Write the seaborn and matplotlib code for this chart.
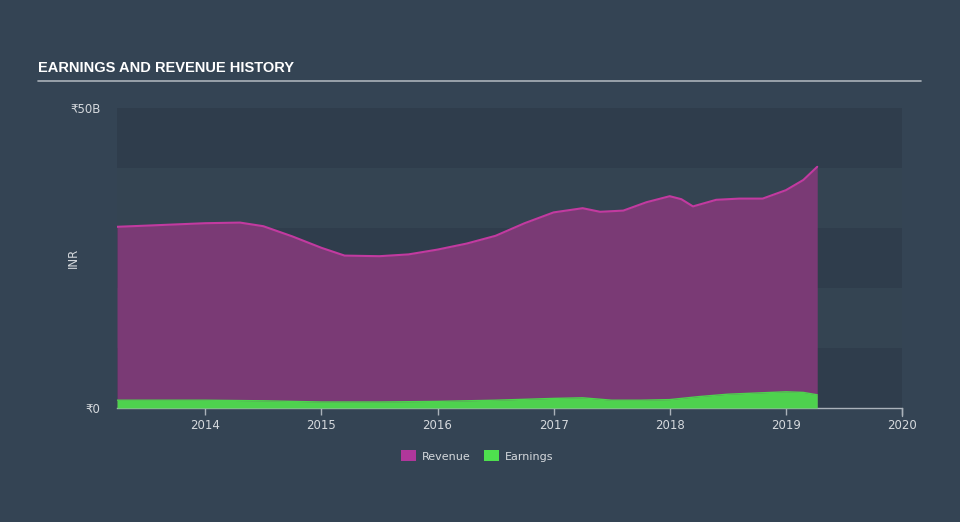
import numpy as np
import pandas as pd
import matplotlib
matplotlib.use("Agg")
import matplotlib.pyplot as plt
import seaborn as sns
from matplotlib.patches import Patch

# ---- data (INR billions) ----
rev_dates = [2013.24, 2013.5, 2013.75, 2014.0, 2014.3, 2014.5, 2014.75, 2015.0, 2015.2,
             2015.5, 2015.75, 2016.0, 2016.25, 2016.5, 2016.75, 2017.0, 2017.25,
             2017.4, 2017.6, 2017.8, 2018.0, 2018.1, 2018.2, 2018.4, 2018.6,
             2018.8, 2019.0, 2019.15, 2019.27]
revenue = [30.2, 30.4, 30.6, 30.8, 30.9, 30.3, 28.6, 26.7, 25.4,
           25.3, 25.6, 26.4, 27.4, 28.7, 30.8, 32.6, 33.3,
           32.7, 32.9, 34.3, 35.3, 34.8, 33.6, 34.7, 34.9,
           34.9, 36.3, 38.0, 40.2]
earn_dates = [2013.24, 2014.0, 2014.5, 2015.0, 2015.5, 2016.0, 2016.5, 2017.0, 2017.25,
              2017.5, 2017.75, 2018.0, 2018.25, 2018.5, 2018.75, 2019.0, 2019.15, 2019.27]
earnings = [1.3, 1.3, 1.2, 1.0, 1.0, 1.1, 1.3, 1.6, 1.7,
            1.3, 1.3, 1.4, 1.9, 2.3, 2.5, 2.7, 2.6, 2.2]
x_ticks = [2014, 2015, 2016, 2017, 2018, 2019, 2020]
y_tick_labels = ["₹0", "₹50B"]

BG = "#344454"
BAND_DARK = "#2f3d4c"
BAND_LIGHT = "#344452"
REV_FILL = "#7a3a75"
REV_LINE = "#c23aa0"
EARN_FILL = "#4ed24e"
TXT = "#d5d9dd"

sns.set_theme(style="dark")
plt.rcParams["font.family"] = ["DejaVu Sans"]

fig = plt.figure(figsize=(9.6, 5.22), dpi=100, facecolor=BG)
ax = fig.add_axes([117/960, 1-408/522, (902-117)/960, 300/522])
ax.set_facecolor(BG)

# horizontal bands
for i in range(5):
    ax.axhspan(i*10, (i+1)*10, color=BAND_DARK if i % 2 == 0 else BAND_LIGHT, lw=0, zorder=0)

rev_df = pd.DataFrame({"date": rev_dates, "value": revenue})
earn_df = pd.DataFrame({"date": earn_dates, "value": earnings})

ax.fill_between(rev_df["date"], rev_df["value"], 0, color=REV_FILL, lw=0, zorder=2)
sns.lineplot(data=rev_df, x="date", y="value", ax=ax, color=REV_LINE, lw=1.5, zorder=3)
ax.fill_between(earn_df["date"], earn_df["value"], 0, color=EARN_FILL, lw=0, zorder=4)
sns.lineplot(data=earn_df, x="date", y="value", ax=ax, color=EARN_FILL, lw=1.0, zorder=5)

ax.set_xlim(2013.24, 2020.0)
ax.set_ylim(0, 50)
ax.set_xticks(x_ticks)
ax.set_xticklabels([str(t) for t in x_ticks], color=TXT, fontsize=8.5)
ax.set_yticks([0, 50])
ax.set_yticklabels(y_tick_labels, color=TXT, fontsize=8.5)
ax.tick_params(axis="x", length=5, width=1, color="#aab2ba", pad=3, bottom=True)
ax.tick_params(axis="y", length=0, pad=12)
ax.set_xlabel("")
ax.set_ylabel("INR", color=TXT, fontsize=8.5)
ax.yaxis.set_label_coords((80-117)/785, 0.5)
for s in ["top", "left", "right"]:
    ax.spines[s].set_visible(False)
ax.spines["bottom"].set_color("#aab2ba")
ax.spines["bottom"].set_linewidth(1)
ax.axvline(2020.0, ymin=-0.025, ymax=0, color="#aab2ba", lw=1, clip_on=False)
ax.grid(False)

# title and rule
fig.text(38/960, 1-68/522, "EARNINGS AND REVENUE HISTORY", color="white", fontsize=10.5,
         fontweight="bold", family=["Liberation Sans", "DejaVu Sans"], va="center", ha="left")
fig.add_artist(plt.Line2D([38/960, 921/960], [1-81/522, 1-81/522], color="#aab2ba", lw=1.2))

# legend
handles = [Patch(facecolor="#b0379b", edgecolor="none", label="Revenue"),
           Patch(facecolor="#4ee04e", edgecolor="none", label="Earnings")]
leg = fig.legend(handles=handles, loc="center", bbox_to_anchor=(477/960, 1-456/522), ncol=2,
                 frameon=False, fontsize=8, handlelength=1.4, handleheight=1.1,
                 columnspacing=1.2, handletextpad=0.5)
for t in leg.get_texts():
    t.set_color(TXT)

fig.savefig("out.png", dpi=100, facecolor=BG)
